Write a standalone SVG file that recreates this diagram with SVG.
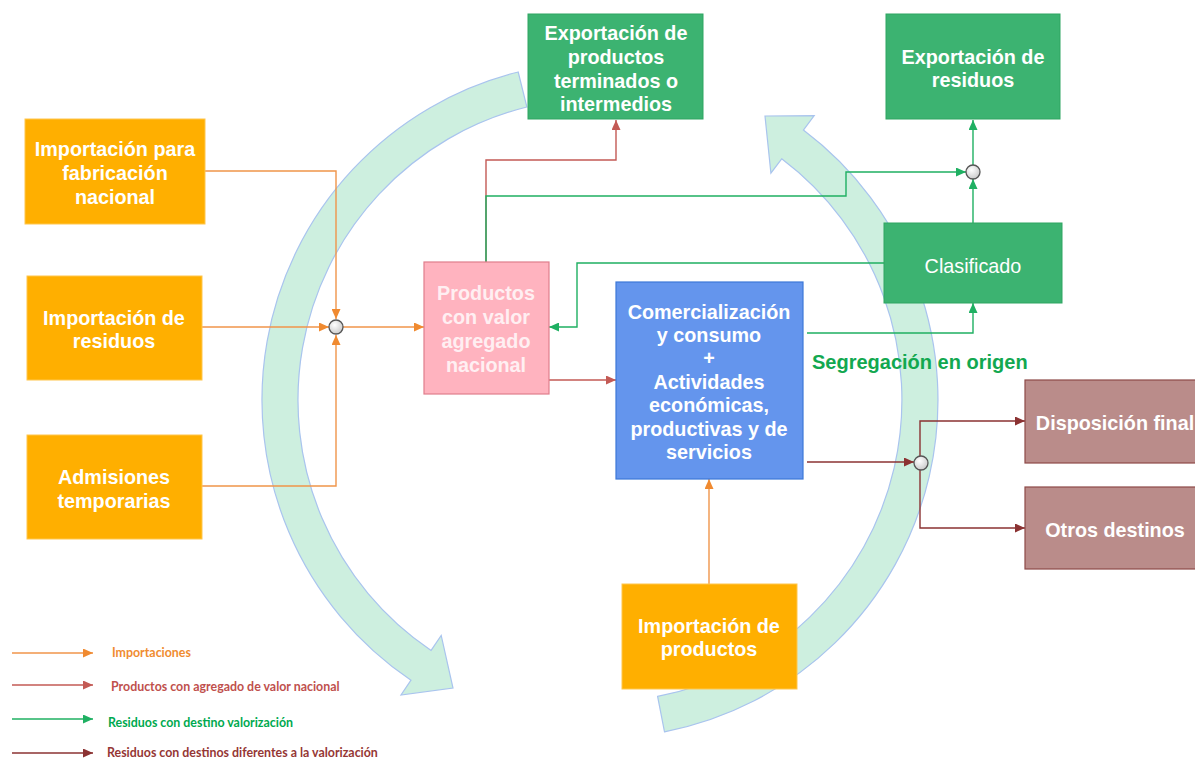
<svg xmlns="http://www.w3.org/2000/svg" width="1195" height="758" viewBox="0 0 1195 758">
<defs>
<style>
.box text{font-family:"Liberation Sans",Arial,sans-serif;font-size:19.8px;font-weight:bold;fill:#fff;text-anchor:middle}
.imp{fill:#FFAF00;stroke:#FFC64D;stroke-width:1}
.gr{fill:#3CB371;stroke:#2FA562;stroke-width:1}
.dr{fill:#BA8C8A;stroke:#8E4A48;stroke-width:1.2}
.c{fill:none;stroke-width:1.4}
.o{stroke:#F0954A}
.r{stroke:#C35A55}
.g{stroke:#1FB062}
.d{stroke:#8B3232}
.leg{font-family:Lato,"Open Sans",sans-serif;font-size:12.4px;font-weight:bold}
.band{fill:#CDEFDF;stroke:#A9C4EE;stroke-width:1.2}
.jn{fill:url(#jg);stroke:#555;stroke-width:1.3}
</style>
<radialGradient id="jg" cx="0.4" cy="0.35" r="0.7">
<stop offset="0" stop-color="#ffffff"/>
<stop offset="1" stop-color="#c8c8c8"/>
</radialGradient>
<marker id="mo" markerUnits="userSpaceOnUse" markerWidth="10" markerHeight="9" refX="10" refY="4.5" orient="auto"><path d="M0,0 L10,4.5 L0,9 z" fill="#F08A30"/></marker>
<marker id="mr" markerUnits="userSpaceOnUse" markerWidth="10" markerHeight="9" refX="10" refY="4.5" orient="auto"><path d="M0,0 L10,4.5 L0,9 z" fill="#C35A55"/></marker>
<marker id="mg" markerUnits="userSpaceOnUse" markerWidth="10" markerHeight="9" refX="10" refY="4.5" orient="auto"><path d="M0,0 L10,4.5 L0,9 z" fill="#1FB062"/></marker>
<marker id="md" markerUnits="userSpaceOnUse" markerWidth="10" markerHeight="9" refX="10" refY="4.5" orient="auto"><path d="M0,0 L10,4.5 L0,9 z" fill="#8B3232"/></marker>
</defs>
<rect width="1195" height="758" fill="#fff"/>

<g id="cycle-arrows">
<path class="band" d="M518.2,72 A338,338 0 0 0 411,680.2 L401,695 L453,688 L441.2,635.4 L431.1,650.4 A302,302 0 0 1 526.9,107 Z"/>
<path class="band" d="M664.5,731.8 A338,338 0 0 0 803.4,130.1 L814.2,115.7 L765,116 L770.9,173.2 L781.7,158.8 A302,302 0 0 1 657.6,696.4 Z"/>
</g>

<g id="connectors">
<path class="c o" d="M205,171 H336 V319" marker-end="url(#mo)"/>
<path class="c o" d="M202,327 H329" marker-end="url(#mo)"/>
<path class="c o" d="M202,486 H336 V335" marker-end="url(#mo)"/>
<path class="c o" d="M343,327 H424" marker-end="url(#mo)"/>
<path class="c r" d="M486,262 V160 H616 V120" marker-end="url(#mr)"/>
<path class="c g" d="M486,262 V196 H846 V172 H966" marker-end="url(#mg)"/>
<path class="c g" d="M884,263 H577 V327 H549" marker-end="url(#mg)"/>
<path class="c g" d="M807,333 H973 V303" marker-end="url(#mg)"/>
<path class="c g" d="M973,223 V179" marker-end="url(#mg)"/>
<path class="c g" d="M973,165 V120" marker-end="url(#mg)"/>
<path class="c r" d="M549,380 H616" marker-end="url(#mr)"/>
<path class="c o" d="M709,584 V479" marker-end="url(#mo)"/>
<path class="c d" d="M807,462 H914" marker-end="url(#md)"/>
<path class="c d" d="M920,456 V421 H1025" marker-end="url(#md)"/>
<path class="c d" d="M920,469 V528 H1025" marker-end="url(#md)"/>
</g>

<g id="junctions">
<circle class="jn" cx="336" cy="327" r="7"/>
<circle class="jn" cx="973" cy="172" r="7"/>
<circle class="jn" cx="921" cy="463" r="7"/>
</g>

<g id="n-imp-fab" class="box">
<rect class="imp" x="25" y="119" width="180" height="105"/>
<text x="115" y="156">Importación para</text>
<text x="115" y="180">fabricación</text>
<text x="115" y="204">nacional</text>
</g>
<g id="n-imp-res" class="box">
<rect class="imp" x="27" y="276" width="175" height="104"/>
<text x="114" y="325">Importación de</text>
<text x="114" y="348">residuos</text>
</g>
<g id="n-adm" class="box">
<rect class="imp" x="27" y="435" width="175" height="104"/>
<text x="114" y="484">Admisiones</text>
<text x="114" y="508">temporarias</text>
</g>
<g id="n-exp-prod" class="box">
<rect class="gr" x="528" y="14" width="175" height="105"/>
<text x="616" y="40">Exportación de</text>
<text x="616" y="64">productos</text>
<text x="616" y="88">terminados o</text>
<text x="616" y="111">intermedios</text>
</g>
<g id="n-exp-res" class="box">
<rect class="gr" x="886" y="14" width="174" height="105"/>
<text x="973" y="64">Exportación de</text>
<text x="973" y="87">residuos</text>
</g>
<g id="n-clas" class="box">
<rect class="gr" x="884" y="223" width="178" height="80"/>
<text x="973" y="273" style="font-weight:normal">Clasificado</text>
</g>
<g id="n-pav" class="box">
<rect x="424" y="262" width="125" height="132" fill="#FFB3BF" stroke="#E07D8C" stroke-width="1.2"/>
<text x="486" y="300" style="fill:#FFEFF2">Productos</text>
<text x="486" y="324" style="fill:#FFEFF2">con valor</text>
<text x="486" y="348" style="fill:#FFEFF2">agregado</text>
<text x="486" y="372" style="fill:#FFEFF2">nacional</text>
</g>
<g id="n-com" class="box">
<rect x="616" y="282" width="187" height="197" fill="#6495ED" stroke="#3C78D8" stroke-width="1.2"/>
<text x="709" y="319">Comercialización</text>
<text x="709" y="342">y consumo</text>
<text x="709" y="365">+</text>
<text x="709" y="389">Actividades</text>
<text x="709" y="412">económicas,</text>
<text x="709" y="436">productivas y de</text>
<text x="709" y="459">servicios</text>
</g>
<g id="n-disp" class="box">
<rect class="dr" x="1025" y="380" width="180" height="83"/>
<text x="1115" y="430">Disposición final</text>
</g>
<g id="n-otros" class="box">
<rect class="dr" x="1025" y="487" width="180" height="82"/>
<text x="1115" y="537">Otros destinos</text>
</g>
<g id="n-imp-prod" class="box">
<rect class="imp" x="622" y="584" width="175" height="105"/>
<text x="709" y="633">Importación de</text>
<text x="709" y="656">productos</text>
</g>

<text x="812" y="369" style="font-family:'Liberation Sans',Arial,sans-serif;font-size:20px;font-weight:bold;fill:#12A850">Segregación en origen</text>

<g id="legend">
<path class="c o" d="M12,653 H93" marker-end="url(#mo)"/>
<path class="c r" d="M12,685 H93" marker-end="url(#mr)"/>
<path class="c g" d="M12,719 H93" marker-end="url(#mg)"/>
<path class="c d" d="M12,753 H93" marker-end="url(#md)"/>
<text class="leg" x="112" y="657" fill="#F08C30">Importaciones</text>
<text class="leg" x="111" y="691" fill="#C0504D">Productos con agregado de valor nacional</text>
<text class="leg" x="108" y="727" fill="#00A94F">Residuos con destino valorización</text>
<text class="leg" x="107" y="757" fill="#953735">Residuos con destinos diferentes a la valorización</text>
</g>
</svg>
